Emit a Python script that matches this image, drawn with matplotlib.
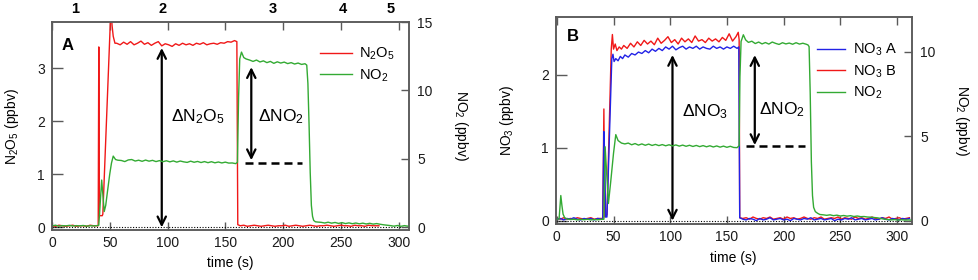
import numpy as np
import matplotlib
matplotlib.use('Agg')
import matplotlib.pyplot as plt

plt.rcParams['font.family'] = ['Liberation Sans', 'DejaVu Sans']
plt.rcParams['mathtext.fontset'] = 'custom'
plt.rcParams['mathtext.rm'] = 'Liberation Sans'
plt.rcParams['mathtext.it'] = 'Liberation Sans:italic'
plt.rcParams['mathtext.bf'] = 'Liberation Sans:bold'

# ---------------- panel A data (time s, value) ----------------
n2o5_a = [(0, 0.03), (3, 0.02), (6, 0.04), (9, 0.03), (12, 0.02), (15, 0.03), (18, 0.04),
          (21, 0.02), (24, 0.03), (27, 0.03), (30, 0.02), (33, 0.04), (36, 0.03), (39, 0.03),
          (40.0, 0.03), (40.5, 3.40), (41.0, 0.22), (43.5, 0.22), (44.0, 0.25), (51.0, 4.15),
          (52.0, 3.80), (53.0, 3.60), (54.5, 3.47),
          (56, 3.47), (59, 3.44), (62, 3.49), (65, 3.45), (68, 3.50), (71, 3.44), (74, 3.47),
          (77, 3.51), (80, 3.45), (83, 3.48), (86, 3.43), (89, 3.47), (92, 3.50), (95, 3.42),
          (98, 3.46), (101, 3.44), (104, 3.41), (107, 3.46), (110, 3.43), (113, 3.47), (116, 3.44),
          (119, 3.46), (122, 3.43), (125, 3.47), (128, 3.45), (131, 3.48), (134, 3.44), (137, 3.46),
          (140, 3.47), (143, 3.45), (146, 3.48), (149, 3.47), (152, 3.50), (155, 3.49), (158, 3.52),
          (160, 3.50), (160.8, 0.05),
          (163, 0.03), (166, 0.04), (169, 0.02), (172, 0.03), (175, 0.04), (178, 0.03), (181, 0.02),
          (184, 0.03), (187, 0.04), (190, 0.03), (193, 0.02), (196, 0.03), (199, 0.03), (202, 0.04),
          (205, 0.02), (208, 0.03), (211, 0.04), (214, 0.03), (217, 0.02), (220, 0.03), (223, 0.04),
          (226, 0.03), (229, 0.02), (232, 0.03), (235, 0.03), (238, 0.04), (241, 0.03), (244, 0.02),
          (247, 0.03), (250, 0.04), (253, 0.03), (256, 0.03), (259, 0.02), (262, 0.04), (265, 0.03),
          (268, 0.03), (271, 0.02), (274, 0.04), (277, 0.03), (280, 0.03), (283, 0.03)]

no2_a = [(0, 0.10), (3, 0.15), (6, 0.08), (9, 0.12), (12, 0.10), (15, 0.14), (18, 0.09),
         (21, 0.12), (24, 0.10), (27, 0.13), (30, 0.08), (33, 0.11), (36, 0.10), (39, 0.12),
         (40.5, 0.15), (43.0, 3.45), (45.2, 1.15), (46.5, 1.6), (48, 2.6), (50, 3.9), (51.5, 4.7),
         (53, 5.2), (55, 4.95), (57, 4.9),
         (60, 4.88), (63, 4.80), (66, 4.92), (69, 4.95), (72, 4.84), (75, 4.90), (78, 4.82),
         (81, 4.91), (84, 4.83), (87, 4.89), (90, 4.80), (93, 4.87), (96, 4.79), (99, 4.86),
         (102, 4.78), (105, 4.85), (108, 4.76), (111, 4.84), (114, 4.78), (117, 4.74), (120, 4.83),
         (123, 4.75), (126, 4.81), (129, 4.73), (132, 4.80), (135, 4.72), (138, 4.79), (141, 4.71),
         (144, 4.77), (147, 4.70), (150, 4.76), (153, 4.69), (156, 4.70), (159, 4.65), (160.5, 4.75),
         (161.5, 9.5), (162.5, 12.3), (164, 12.8), (166, 12.4), (168, 12.3), (171, 12.22),
         (174, 12.12), (177, 12.22), (180, 12.08), (183, 12.16), (186, 12.03), (189, 12.12),
         (192, 11.98), (195, 12.09), (198, 12.0), (201, 12.07), (204, 11.96), (207, 12.03),
         (210, 11.93), (213, 12.0), (216, 11.9), (219, 11.95), (220.5, 11.85), (221.5, 10.5),
         (222.5, 7.5), (223.5, 4.0), (224.5, 1.6), (225.5, 0.8), (226.5, 0.5), (228, 0.4),
         (230, 0.38), (233, 0.36), (236, 0.31), (239, 0.37), (242, 0.30), (245, 0.35), (248, 0.28),
         (251, 0.34), (254, 0.27), (257, 0.32), (260, 0.26), (263, 0.31), (266, 0.25), (269, 0.30),
         (272, 0.24), (275, 0.29), (278, 0.23), (281, 0.27), (284, 0.22), (287, 0.18), (290, 0.15),
         (293, 0.12), (296, 0.08), (299, 0.13), (302, 0.07), (305, 0.12), (308, 0.08), (311, 0.10)]

# ---------------- panel B data ----------------
tail_t_b = [164, 167, 170, 173, 176, 179, 182, 185, 188, 191, 194, 197, 200, 203, 206, 209,
            212, 215, 218, 221, 224, 227, 230, 233, 236, 239, 242, 245, 248, 251, 254, 257,
            260, 263, 266, 269, 272, 275, 278, 281, 284, 287, 290, 293, 296, 299, 302, 305,
            308, 311]

no3a_b = [(0, 0.02), (3, 0.03), (6, 0.01), (9, 0.03), (12, 0.02), (15, 0.04), (18, 0.02),
          (21, 0.01), (24, 0.03), (27, 0.02), (30, 0.03), (33, 0.01), (36, 0.03), (39, 0.02),
          (40.5, 0.02), (41.5, 1.22), (42.2, 0.9), (43.0, 0.05), (44.2, 0.05), (48.5, 2.22),
          (49.5, 2.28), (50.5, 2.18), (52, 2.22), (54, 2.19), (56, 2.25), (58, 2.22), (60, 2.27),
          (63, 2.24), (66, 2.29), (69, 2.27), (72, 2.31), (75, 2.29), (78, 2.33), (81, 2.30),
          (84, 2.35), (87, 2.32), (90, 2.36), (93, 2.33), (96, 2.38), (99, 2.35), (102, 2.39),
          (105, 2.34), (108, 2.37), (111, 2.39), (114, 2.35), (117, 2.38), (120, 2.36), (123, 2.39),
          (126, 2.35), (129, 2.38), (132, 2.36), (135, 2.35), (138, 2.39), (141, 2.36), (144, 2.38),
          (147, 2.35), (150, 2.38), (153, 2.36), (156, 2.39), (159, 2.36), (160.5, 2.38),
          (161.3, 0.04)]
no3a_tail = [0.02, 0.01, 0.03, 0.02, 0.00, 0.03, 0.01, 0.02, 0.04, 0.01, 0.02, 0.03, 0.01,
             0.02, 0.00, 0.03, 0.02, 0.01, 0.03, 0.02, 0.04, 0.01, 0.02, 0.03, 0.01, 0.02,
             0.03, 0.00, 0.02, 0.01, 0.03, 0.02, 0.04, 0.01, 0.02, 0.03, 0.01, 0.02, 0.03,
             0.01, 0.02, 0.04, 0.02, 0.01, 0.03, 0.02, 0.01, 0.03, 0.02, 0.03]

no3b_b = [(0, 0.03), (3, 0.02), (6, 0.04), (9, 0.02), (12, 0.03), (15, 0.02), (18, 0.04),
          (21, 0.03), (24, 0.02), (27, 0.03), (30, 0.04), (33, 0.02), (36, 0.03), (39, 0.03),
          (40.5, 0.03), (41.5, 1.53), (42.3, 0.05), (44.2, 0.08), (48, 2.35), (49, 2.55),
          (50, 2.35), (51.5, 2.42), (53, 2.33), (55, 2.38), (57, 2.35), (59, 2.40), (62, 2.36),
          (65, 2.43), (68, 2.38), (71, 2.45), (74, 2.40), (77, 2.47), (80, 2.42), (83, 2.46),
          (86, 2.41), (89, 2.50), (92, 2.43), (95, 2.47), (98, 2.52), (101, 2.44), (104, 2.48),
          (107, 2.42), (110, 2.50), (113, 2.45), (116, 2.49), (119, 2.44), (122, 2.53), (125, 2.46),
          (128, 2.48), (131, 2.44), (134, 2.50), (137, 2.46), (140, 2.49), (143, 2.45), (146, 2.51),
          (149, 2.47), (152, 2.56), (155, 2.46), (158, 2.52), (160, 2.58), (160.8, 2.48),
          (161.3, 0.04)]
no3b_tail = [0.03, 0.04, 0.02, 0.05, 0.03, 0.02, 0.04, 0.03, 0.05, 0.02, 0.03, 0.04, 0.02,
             0.05, 0.03, 0.04, 0.02, 0.03, 0.05, 0.03, 0.02, 0.04, 0.03, 0.05, 0.02, 0.03,
             0.04, 0.03, 0.05, 0.02, 0.04, 0.03, 0.02, 0.05, 0.03, 0.04, 0.02, 0.03, 0.05,
             0.03, 0.02, 0.04, 0.03, 0.05, 0.02, 0.03, 0.04, 0.02, 0.03, 0.04]

no2_b = [(0, 0.10), (2, 0.12), (3.5, 1.5), (4.5, 0.9), (5.5, 0.4), (7, 0.18), (9, 0.12),
         (12, 0.08), (15, 0.10), (18, 0.06), (21, 0.09), (24, 0.07), (27, 0.10), (30, 0.06),
         (33, 0.08), (36, 0.07), (39, 0.09), (41.5, 0.10), (42.6, 4.38), (45.5, 1.03), (47.5, 2.3),
         (50, 4.0), (52, 5.1), (54, 4.75), (57, 4.6), (60, 4.55), (63, 4.60), (66, 4.50), (69, 4.57),
         (72, 4.48), (75, 4.55), (78, 4.47), (81, 4.54), (84, 4.46), (87, 4.52), (90, 4.45),
         (93, 4.51), (96, 4.44), (99, 4.50), (102, 4.43), (105, 4.49), (108, 4.42), (111, 4.48),
         (114, 4.41), (117, 4.47), (120, 4.40), (123, 4.46), (126, 4.39), (129, 4.45), (132, 4.38),
         (135, 4.44), (138, 4.37), (141, 4.43), (144, 4.36), (147, 4.42), (150, 4.35), (153, 4.41),
         (156, 4.34), (159, 4.33), (160.8, 4.45), (161.5, 8.5), (162.5, 10.6), (164.5, 11.0),
         (166.5, 10.7), (169, 10.55), (172, 10.62), (175, 10.48), (178, 10.57), (181, 10.46),
         (184, 10.54), (187, 10.45), (190, 10.57), (193, 10.49), (196, 10.43), (199, 10.53),
         (202, 10.46), (205, 10.51), (208, 10.44), (211, 10.53), (214, 10.45), (217, 10.5),
         (220, 10.44), (221.5, 10.4), (222.5, 10.3), (223.5, 7.5), (224.5, 3.5), (225.5, 1.5),
         (226.5, 0.8), (228, 0.55), (230, 0.45), (232, 0.38), (235, 0.36), (238, 0.33), (241, 0.36),
         (244, 0.31), (247, 0.34), (250, 0.29), (253, 0.32), (256, 0.28), (259, 0.31), (262, 0.26),
         (265, 0.29), (268, 0.25), (271, 0.26), (274, 0.23), (277, 0.22), (280, 0.20), (283, 0.18),
         (286, 0.14), (289, 0.10), (292, 0.08), (295, 0.06), (298, 0.08), (301, 0.05), (304, 0.07),
         (307, 0.05), (310, 0.06), (313, 0.05)]

# sample markers above panel A
marks_t = [20, 96, 191, 252, 293]
marks_lbl = ['1', '2', '3', '4', '5']

# annotations: (x, y0, y1) arrows, (x0, x1, y) dashed levels, (x, y) labels
arrow_a_left = (95, 0.0, 3.38)
arrow_a_right = (172.5, 4.9, 11.7)
dash_a = (167, 216, 4.7)
text_a_left = (126, 2.08)
text_a_right = (198, 8.05)
arrow_b_left = (102, 0.0, 2.27)
arrow_b_right = (174.6, 4.48, 9.8)
dash_b = (167, 219, 4.42)
text_b_left = (130.6, 1.49)
text_b_right = (199, 6.55)

RED = '#f01818'
GREEN = '#33aa33'
BLUE = '#2222e6'
SPINE = '#5a5a5a'
FS = 10
LFS = 10.5
DFS = 12.5


def unzip(pairs):
    t, v = zip(*pairs)
    return np.array(t, float), np.array(v, float)


def style(ax, ax2):
    for a in (ax, ax2):
        for s in a.spines.values():
            s.set_color(SPINE)
            s.set_linewidth(1.1)
    ax.tick_params(axis='both', direction='in', length=6, width=1, color=SPINE,
                   labelsize=FS, labelcolor='#1a1a1a', top=True, right=False, pad=4)
    ax.tick_params(axis='y', length=8, pad=5)
    ax2.tick_params(axis='y', direction='in', length=6, width=1, color=SPINE,
                    labelsize=FS, labelcolor='#1a1a1a', pad=6)
    ax.set_xticks([0, 50, 100, 150, 200, 250, 300])
    ax.set_xlabel('time (s)', fontsize=FS, labelpad=5)


def double_arrow(a, spec):
    x, y0, y1 = spec
    a.annotate('', xy=(x, y1), xytext=(x, y0),
               arrowprops=dict(arrowstyle='<->,head_length=0.6,head_width=0.3',
                               lw=1.6, color='k', shrinkA=0, shrinkB=0))


fig = plt.figure(figsize=(9.79, 2.8), dpi=100)

# ---------- panel A ----------
ax = fig.add_axes([52 / 979, 50 / 280, 357 / 979, 208 / 280])
ax2 = ax.twinx()
t, v = unzip(n2o5_a)
l1, = ax.plot(t, v, color=RED, lw=1.0)
t, v = unzip(no2_a)
l2, = ax2.plot(t, v, color=GREEN, lw=1.0)
ax.axhline(0, color='k', ls=(0, (1, 1.5)), lw=0.8)
ax.set_xlim(0, 309)
ax.set_ylim(-0.05, 3.87)
ax2.set_ylim(-0.2, 15)
ax.set_yticks([0, 1, 2, 3])
ax2.set_yticks([0, 5, 10, 15])
style(ax, ax2)
ax.set_ylabel('N$_2$O$_5$ (ppbv)', fontsize=FS)
ax.yaxis.set_label_coords(-0.088, 0.5)
ax2.set_ylabel('NO$_2$ (ppbv)', fontsize=FS, rotation=270, va='center')
ax2.yaxis.set_label_coords(1.145, 0.5)
for tm, lb in zip(marks_t, marks_lbl):
    ax.text(tm, 1.062, lb, transform=ax.get_xaxis_transform(), ha='center', va='center',
            fontsize=10.5, fontweight='bold')
ax.text(0.045, 0.885, 'A', transform=ax.transAxes, ha='center', va='center',
        fontsize=12, fontweight='bold')
double_arrow(ax, arrow_a_left)
double_arrow(ax2, arrow_a_right)
ax2.hlines(dash_a[2], dash_a[0], dash_a[1], color='k', lw=1.8, linestyles=(0, (3.2, 2)))
ax.text(*text_a_left, '\u0394N$_2$O$_5$', ha='center', va='center', fontsize=DFS)
ax2.text(*text_a_right, '\u0394NO$_2$', ha='center', va='center', fontsize=DFS)
ax2.legend([l1, l2], ['N$_2$O$_5$', 'NO$_2$'], loc='upper left', bbox_to_anchor=(0.751, 0.885),
           frameon=False, fontsize=LFS, handlelength=2.2, handletextpad=0.5, borderpad=0,
           borderaxespad=0, labelspacing=0.35)

# ---------- panel B ----------
bx = fig.add_axes([555.7 / 979, 55.7 / 280, 356 / 979, 207.3 / 280])
bx2 = bx.twinx()
t, v = unzip(no3b_b)
t = np.concatenate([t, tail_t_b])
v = np.concatenate([v, no3b_tail])
l4, = bx.plot(t, v, color=RED, lw=1.0)
t, v = unzip(no3a_b)
t = np.concatenate([t, tail_t_b])
v = np.concatenate([v, no3a_tail])
l3, = bx.plot(t, v, color=BLUE, lw=1.0)
t, v = unzip(no2_b)
l5, = bx2.plot(t, v, color=GREEN, lw=1.0)
bx.axhline(0, color='k', ls=(0, (1, 1.5)), lw=0.8)
bx.set_xlim(-1, 313)
bx.set_ylim(-0.05, 2.79)
bx2.set_ylim(-0.2, 12.05)
bx.set_yticks([0, 1, 2])
bx2.set_yticks([0, 5, 10])
style(bx, bx2)
bx.set_ylabel('NO$_3$ (ppbv)', fontsize=FS)
bx.yaxis.set_label_coords(-0.112, 0.5)
bx2.set_ylabel('NO$_2$ (ppbv)', fontsize=FS, rotation=270, va='center')
bx2.yaxis.set_label_coords(1.14, 0.5)
bx.text(0.048, 0.905, 'B', transform=bx.transAxes, ha='center', va='center',
        fontsize=12, fontweight='bold')
double_arrow(bx, arrow_b_left)
double_arrow(bx2, arrow_b_right)
bx2.hlines(dash_b[2], dash_b[0], dash_b[1], color='k', lw=1.8, linestyles=(0, (3.2, 2)))
bx.text(*text_b_left, '\u0394NO$_3$', ha='center', va='center', fontsize=DFS)
bx2.text(*text_b_right, '\u0394NO$_2$', ha='center', va='center', fontsize=DFS)
bx2.legend([l3, l4, l5], ['NO$_3$ A', 'NO$_3$ B', 'NO$_2$'], loc='upper left',
           bbox_to_anchor=(0.734, 0.88), frameon=False, fontsize=LFS, handlelength=1.9,
           handletextpad=0.6, borderpad=0, borderaxespad=0, labelspacing=0.35)

fig.savefig('out.png', dpi=100)
